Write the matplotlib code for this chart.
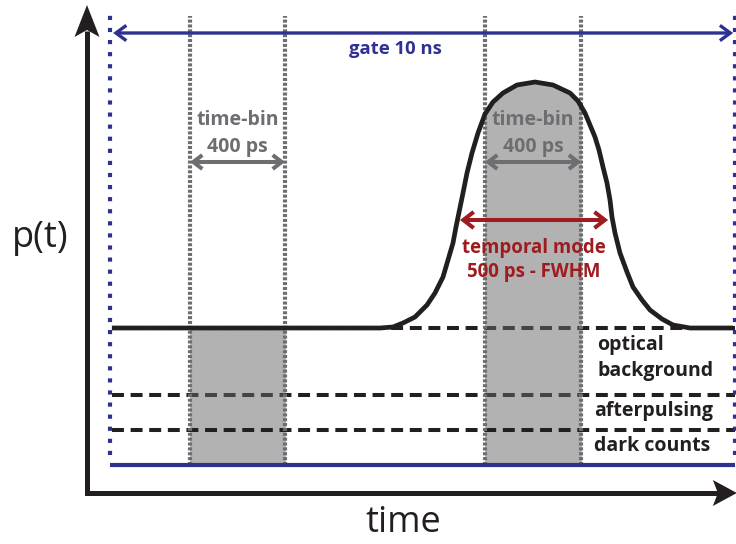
import numpy as np
import matplotlib
matplotlib.use("Agg")
import matplotlib.pyplot as plt
from matplotlib.patches import FancyArrowPatch, Polygon, Rectangle
from matplotlib.transforms import IdentityTransform

plt.rcParams['font.family'] = ['Open Sans', 'DejaVu Sans']
plt.rcParams['lines.scale_dashes'] = False

# ---------------- data (schematic: t in ns over a 10 ns gate, p(t) arbitrary) -------------
gate_ns = [0.0, 10.0]
bin_edges = [[1.28, 2.80], [6.00, 7.54]]
level_names = ['dark counts', 'afterpulsing', 'optical background']
level_values = [0.35, 0.70, 1.37]
pulse_t = [0.03, 4.000, 4.320, 4.528, 4.688, 4.880, 5.072, 5.200, 5.328, 5.408,
           5.488, 5.536, 5.592, 5.648, 5.712, 5.792, 5.888, 6.000, 6.128, 6.288,
           6.512, 6.800, 7.088, 7.360, 7.488, 7.600, 7.680, 7.760, 7.824, 7.888,
           7.952, 8.000, 8.032, 8.080, 8.160, 8.272, 8.368, 8.512, 8.640, 8.832,
           9.008, 9.280, 9.97]
pulse_p = [1.37, 1.37, 1.37, 1.38, 1.42, 1.48, 1.60, 1.72, 1.88, 2.05,
           2.22, 2.38, 2.55, 2.72, 2.92, 3.12, 3.32, 3.51, 3.63, 3.72,
           3.80, 3.83, 3.80, 3.72, 3.64, 3.52, 3.40, 3.28, 3.15, 2.98,
           2.82, 2.65, 2.48, 2.32, 2.12, 1.93, 1.78, 1.65, 1.55, 1.46,
           1.40, 1.37, 1.37]
fwhm_t = [5.60, 7.97]
fwhm_p = 2.45
gate_label = 'gate 10 ns'
bin_label = ['time-bin', '400 ps']
mode_label = ['temporal mode', '500 ps - FWHM']

# ---------------- styles ----------------
BLACK = '#231f20'
BLUE = '#2e3192'
RED = '#9e1b20'
GRAY = '#6d6e71'

fig = plt.figure(figsize=(7.36, 5.44), dpi=100)
ax = fig.add_axes([0, 0, 1, 1])
ax.set_xlim(-1.76, 10.016)
ax.set_ylim(-0.79, 4.65)
ax.axis('off')

pulse_t = np.array(pulse_t)
pulse_p = np.array(pulse_p)

# dashed background levels (optical & afterpulsing below the shading)
for lv, name in zip(level_values, level_names):
    z = 3 if name == 'dark counts' else 1
    ax.plot([0.03, 10.0], [lv, lv], color=BLACK, lw=2.9, dashes=(8.6, 4.8),
            dash_capstyle='butt', zorder=z)

# shaded time-bins: area under p(t), clipped to each bin
for b0, b1 in bin_edges:
    poly = ax.fill_between(pulse_t, 0, pulse_p, color='#676767', alpha=0.5,
                           lw=0, zorder=2)
    rect = Rectangle((b0, 0), b1 - b0, 5, transform=ax.transData)
    poly.set_clip_path(rect)

# gray dotted bin borders
for b0, b1 in bin_edges:
    for b in (b0, b1):
        ax.plot([b, b], [0.0, 4.49], color=GRAY, lw=3.0, dashes=(2.2, 1.3),
                dash_capstyle='butt', zorder=4)

# blue dotted gate borders
for g in gate_ns:
    ax.plot([g, g], [0.1, 4.53], color=BLUE, lw=3.0, dashes=(3.0, 5.7),
            dash_capstyle='butt', zorder=4)

# blue gate baseline
ax.plot(gate_ns, [0, 0], color=BLUE, lw=3.0, solid_capstyle='butt', zorder=5)

# pulse p(t)
ax.plot(pulse_t, pulse_p, color=BLACK, lw=3.4, solid_joinstyle='round',
        solid_capstyle='butt', zorder=6)


def dbl_arrow(x0, x1, y, color, lw, hl, hw):
    a = FancyArrowPatch((x0, y), (x1, y),
                        arrowstyle=f'<->,head_length={hl},head_width={hw}',
                        mutation_scale=1, color=color, lw=lw, shrinkA=0, shrinkB=0,
                        joinstyle='miter', capstyle='butt', zorder=7)
    ax.add_patch(a)


# gate arrow
dbl_arrow(gate_ns[0] + 0.05, gate_ns[1] - 0.03, 4.32, BLUE, 2.4, 7.5, 5.5)
ax.text(4.56, 4.16, gate_label, color=BLUE, fontsize=13.3, fontweight='bold',
        ha='center', va='center', zorder=8)

# time-bin arrows and labels
for b0, b1 in bin_edges:
    dbl_arrow(b0, b1, 3.03, GRAY, 2.9, 6.5, 5.0)
    xc = 0.5 * (b0 + b1)
    ax.text(xc, 3.45, bin_label[0], color=GRAY, fontsize=14, fontweight='bold',
            ha='center', va='center', zorder=8)
    ax.text(xc, 3.18, bin_label[1], color=GRAY, fontsize=14, fontweight='bold',
            ha='center', va='center', zorder=8)

# FWHM arrow
dbl_arrow(fwhm_t[0], fwhm_t[1], fwhm_p, RED, 2.9, 7.5, 5.8)
xc = 0.5 * (fwhm_t[0] + fwhm_t[1])
ax.text(xc, 2.17, mode_label[0], color=RED, fontsize=13.4, fontweight='bold',
        ha='center', va='center', zorder=8)
ax.text(xc, 1.93, mode_label[1], color=RED, fontsize=13.4, fontweight='bold',
        ha='center', va='center', zorder=8)

# level labels
lab_x = 7.80
fs_lab = 14
ax.text(lab_x, 1.20, 'optical', color=BLACK, fontsize=fs_lab, fontweight='bold',
        ha='left', va='center', zorder=8)
ax.text(lab_x, 0.94, 'background', color=BLACK, fontsize=fs_lab, fontweight='bold',
        ha='left', va='center', zorder=8)
ax.text(lab_x - 0.05, 0.54, 'afterpulsing', color=BLACK, fontsize=fs_lab, fontweight='bold',
        ha='left', va='center', zorder=8)
ax.text(lab_x - 0.05, 0.19, 'dark counts', color=BLACK, fontsize=fs_lab, fontweight='bold',
        ha='left', va='center', zorder=8)

# axes with arrows
ax_t = -0.368
ax_p = -0.28
ytip = 4.60
xtip = 10.03


def stealth(tip, d, length, hw, notch):
    tx, ty = ax.transData.transform(tip)
    d = np.array(d, float)
    n = np.array([-d[1], d[0]])
    t = np.array([tx, ty])
    pts = [t, t - d * length + n * hw, t - d * (length - notch), t - d * length - n * hw]
    ax.add_patch(Polygon(pts, closed=True, transform=IdentityTransform(),
                         color=BLACK, lw=0, zorder=9))


fig.canvas.draw()
stealth((ax_t, ytip), (0, 1), 32, 12.5, 7)
stealth((xtip, ax_p), (1, 0), 24, 13, 5)
ax.plot([ax_t, ax_t, xtip - 0.3], [ytip - 0.26, ax_p, ax_p], color=BLACK, lw=3.6,
        solid_joinstyle='miter', solid_capstyle='butt', zorder=9)

ax.text(-1.12, 2.27, 'p(t)', color=BLACK, fontsize=26, ha='center', va='center')
ax.text(4.70, -0.58, 'time', color=BLACK, fontsize=26, ha='center', va='center')

fig.savefig('out.png', dpi=100)
